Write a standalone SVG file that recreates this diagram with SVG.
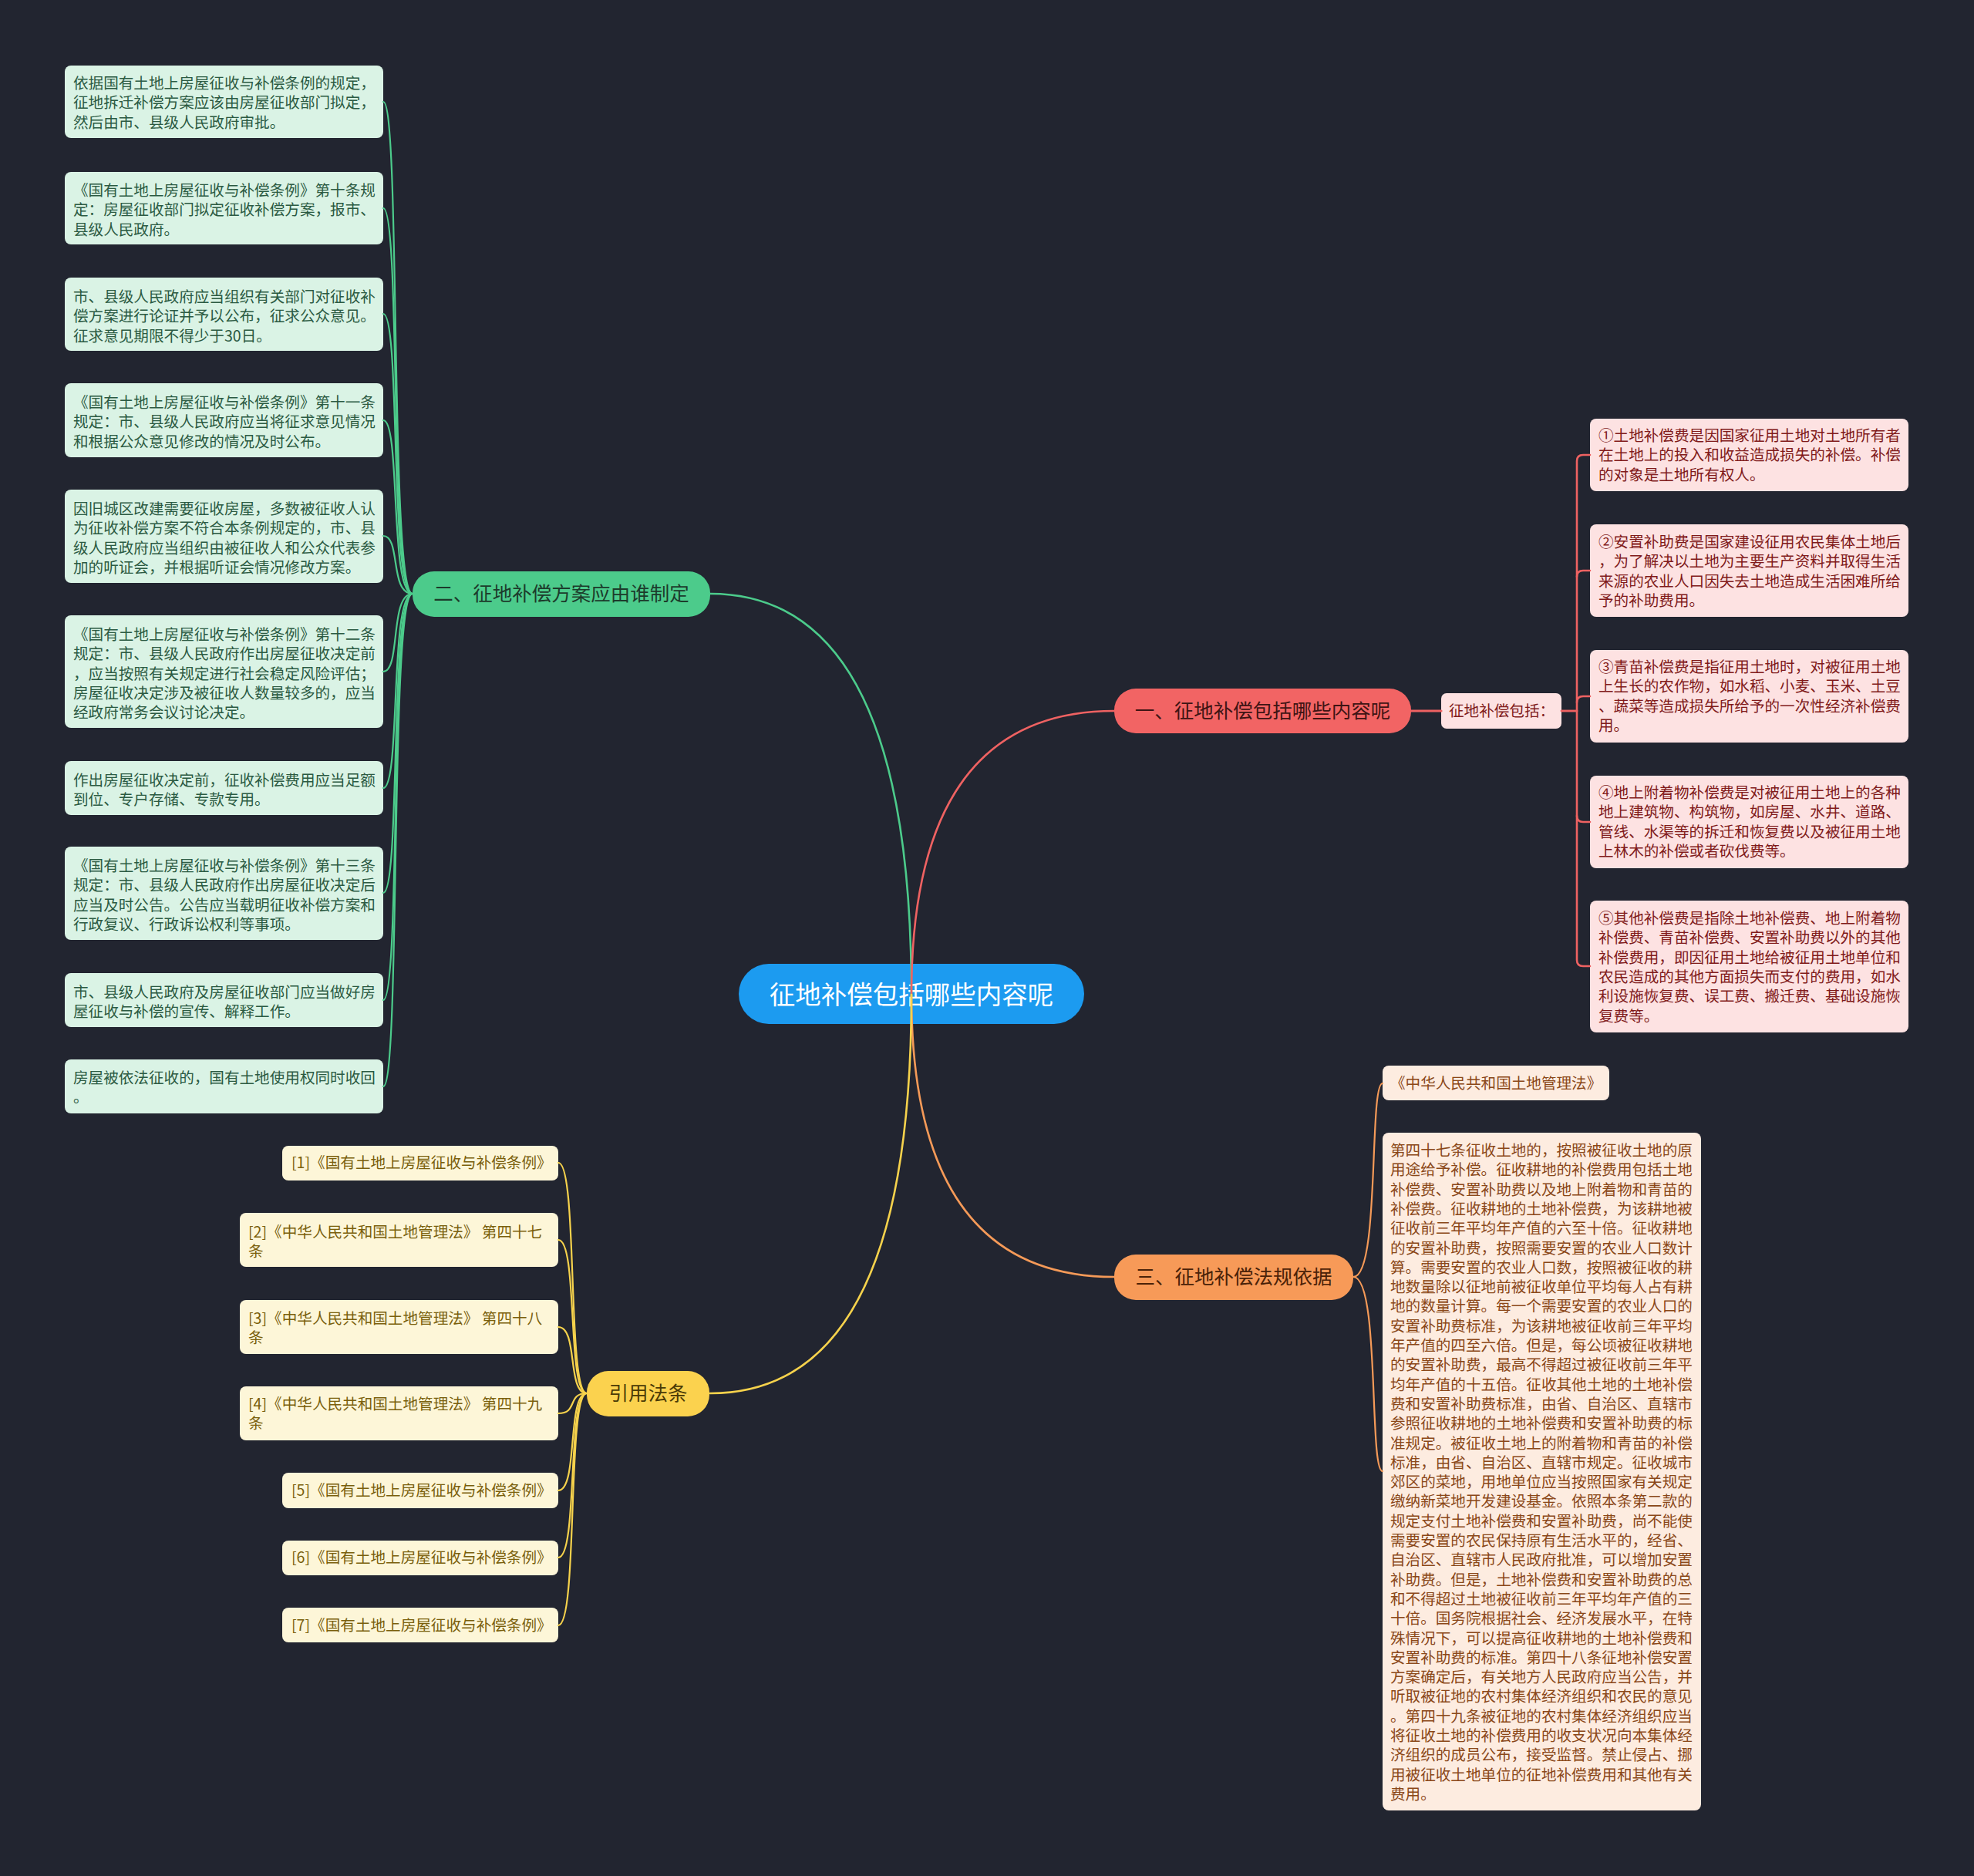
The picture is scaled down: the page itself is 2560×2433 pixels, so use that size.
<svg xmlns="http://www.w3.org/2000/svg" width="2560" height="2433" viewBox="0 0 2560 2433">
<style>
text{font-family:"Noto Sans CJK SC","Noto Sans",sans-serif;}
.lt{font-size:19.6px;}
.bt{font-size:25.5px;text-anchor:middle;}
.gl{fill:#daf3e5;}
.glt{fill:#2b5a42;}
.pl{fill:#fde2e2;}
.plt{fill:#801a1a;}
.ol{fill:#fdece0;}
.olt{fill:#8a4718;}
.yl{fill:#fdf6d8;}
.ylt{fill:#7a5f0c;}
.c{fill:none;stroke-linecap:round;}
.cg{stroke:#4ccb8b;}
.cr{stroke:#ef6262;}
.co{stroke:#f59a58;}
.cy{stroke:#f6d24c;}
</style>
<rect width="2560" height="2433" fill="#222530"/>

<g id="root">
<rect x="958" y="1250" width="448" height="78" rx="39" fill="#1c9bf0"/>
<text x="1182" y="1302" style="font-size:33.5px;text-anchor:middle;fill:#ffffff">征地补偿包括哪些内容呢</text>
</g>

<g id="branch-2">
<rect x="535" y="741" width="386" height="59" rx="28" fill="#4ccb8b"/>
<text class="bt" x="728" y="779" fill="#1c3b2b">二、征地补偿方案应由谁制定</text>
</g>
<g id="branch-1">
<rect x="1445" y="893" width="385" height="58" rx="28" fill="#f26464"/>
<text class="bt" x="1637.5" y="931" fill="#3e1414">一、征地补偿包括哪些内容呢</text>
</g>
<g id="branch-3">
<rect x="1445" y="1627" width="310" height="59" rx="28" fill="#f79a58"/>
<text class="bt" x="1600" y="1665" fill="#4a2208">三、征地补偿法规依据</text>
</g>
<g id="branch-ref">
<rect x="761" y="1778" width="159" height="59" rx="28" fill="#fbd24e"/>
<text class="bt" x="840.5" y="1816" fill="#4a3a06">引用法条</text>
</g>

<g id="g1"><rect class="gl" x="84" y="85" width="413" height="94" rx="8"/>
<text class="lt glt" x="95" y="115">依据国有土地上房屋征收与补偿条例的规定，<tspan x="95" dy="25.3">征地拆迁补偿方案应该由房屋征收部门拟定，</tspan><tspan x="95" dy="25.3">然后由市、县级人民政府审批。</tspan></text></g>
<g id="g2"><rect class="gl" x="84" y="223" width="413" height="94" rx="8"/>
<text class="lt glt" x="95" y="254">《国有土地上房屋征收与补偿条例》第十条规<tspan x="95" dy="25.3">定：房屋征收部门拟定征收补偿方案，报市、</tspan><tspan x="95" dy="25.3">县级人民政府。</tspan></text></g>
<g id="g3"><rect class="gl" x="84" y="360" width="413" height="95" rx="8"/>
<text class="lt glt" x="95" y="392">市、县级人民政府应当组织有关部门对征收补<tspan x="95" dy="25.3">偿方案进行论证并予以公布，征求公众意见。</tspan><tspan x="95" dy="25.3">征求意见期限不得少于30日。</tspan></text></g>
<g id="g4"><rect class="gl" x="84" y="497" width="413" height="96" rx="8"/>
<text class="lt glt" x="95" y="529">《国有土地上房屋征收与补偿条例》第十一条<tspan x="95" dy="25.3">规定：市、县级人民政府应当将征求意见情况</tspan><tspan x="95" dy="25.3">和根据公众意见修改的情况及时公布。</tspan></text></g>
<g id="g5"><rect class="gl" x="84" y="635" width="413" height="121" rx="8"/>
<text class="lt glt" x="95" y="667">因旧城区改建需要征收房屋，多数被征收人认<tspan x="95" dy="25.3">为征收补偿方案不符合本条例规定的，市、县</tspan><tspan x="95" dy="25.3">级人民政府应当组织由被征收人和公众代表参</tspan><tspan x="95" dy="25.3">加的听证会，并根据听证会情况修改方案。</tspan></text></g>
<g id="g6"><rect class="gl" x="84" y="798" width="413" height="146" rx="8"/>
<text class="lt glt" x="95" y="830">《国有土地上房屋征收与补偿条例》第十二条<tspan x="95" dy="25.3">规定：市、县级人民政府作出房屋征收决定前</tspan><tspan x="95" dy="25.3">，应当按照有关规定进行社会稳定风险评估；</tspan><tspan x="95" dy="25.3">房屋征收决定涉及被征收人数量较多的，应当</tspan><tspan x="95" dy="25.3">经政府常务会议讨论决定。</tspan></text></g>
<g id="g7"><rect class="gl" x="84" y="987" width="413" height="70" rx="8"/>
<text class="lt glt" x="95" y="1019">作出房屋征收决定前，征收补偿费用应当足额<tspan x="95" dy="25.3">到位、专户存储、专款专用。</tspan></text></g>
<g id="g8"><rect class="gl" x="84" y="1098" width="413" height="121" rx="8"/>
<text class="lt glt" x="95" y="1130">《国有土地上房屋征收与补偿条例》第十三条<tspan x="95" dy="25.3">规定：市、县级人民政府作出房屋征收决定后</tspan><tspan x="95" dy="25.3">应当及时公告。公告应当载明征收补偿方案和</tspan><tspan x="95" dy="25.3">行政复议、行政诉讼权利等事项。</tspan></text></g>
<g id="g9"><rect class="gl" x="84" y="1262" width="413" height="70" rx="8"/>
<text class="lt glt" x="95" y="1294">市、县级人民政府及房屋征收部门应当做好房<tspan x="95" dy="25.3">屋征收与补偿的宣传、解释工作。</tspan></text></g>
<g id="g10"><rect class="gl" x="84" y="1374" width="413" height="70" rx="8"/>
<text class="lt glt" x="95" y="1405">房屋被依法征收的，国有土地使用权同时收回<tspan x="95" dy="25.3">。</tspan></text></g>

<g id="p0"><rect class="pl" x="1869" y="899" width="156" height="46" rx="7"/>
<text class="lt plt" x="1879" y="929">征地补偿包括：</text></g>
<g id="p1"><rect class="pl" x="2062" y="543" width="413" height="94" rx="8"/>
<text class="lt plt" x="2073" y="572">①土地补偿费是因国家征用土地对土地所有者<tspan x="2073" dy="25.3">在土地上的投入和收益造成损失的补偿。补偿</tspan><tspan x="2073" dy="25.3">的对象是土地所有权人。</tspan></text></g>
<g id="p2"><rect class="pl" x="2062" y="680" width="413" height="120" rx="8"/>
<text class="lt plt" x="2073" y="710">②安置补助费是国家建设征用农民集体土地后<tspan x="2073" dy="25.3">，为了解决以土地为主要生产资料并取得生活</tspan><tspan x="2073" dy="25.3">来源的农业人口因失去土地造成生活困难所给</tspan><tspan x="2073" dy="25.3">予的补助费用。</tspan></text></g>
<g id="p3"><rect class="pl" x="2062" y="843" width="413" height="120" rx="8"/>
<text class="lt plt" x="2073" y="872">③青苗补偿费是指征用土地时，对被征用土地<tspan x="2073" dy="25.3">上生长的农作物，如水稻、小麦、玉米、土豆</tspan><tspan x="2073" dy="25.3">、蔬菜等造成损失所给予的一次性经济补偿费</tspan><tspan x="2073" dy="25.3">用。</tspan></text></g>
<g id="p4"><rect class="pl" x="2062" y="1006" width="413" height="120" rx="8"/>
<text class="lt plt" x="2073" y="1035">④地上附着物补偿费是对被征用土地上的各种<tspan x="2073" dy="25.3">地上建筑物、构筑物，如房屋、水井、道路、</tspan><tspan x="2073" dy="25.3">管线、水渠等的拆迁和恢复费以及被征用土地</tspan><tspan x="2073" dy="25.3">上林木的补偿或者砍伐费等。</tspan></text></g>
<g id="p5"><rect class="pl" x="2062" y="1168" width="413" height="171" rx="8"/>
<text class="lt plt" x="2073" y="1198">⑤其他补偿费是指除土地补偿费、地上附着物<tspan x="2073" dy="25.3">补偿费、青苗补偿费、安置补助费以外的其他</tspan><tspan x="2073" dy="25.3">补偿费用，即因征用土地给被征用土地单位和</tspan><tspan x="2073" dy="25.3">农民造成的其他方面损失而支付的费用，如水</tspan><tspan x="2073" dy="25.3">利设施恢复费、误工费、搬迁费、基础设施恢</tspan><tspan x="2073" dy="25.3">复费等。</tspan></text></g>

<g id="o1"><rect class="ol" x="1793" y="1382" width="294" height="45" rx="8"/>
<text class="lt olt" x="1803" y="1412">《中华人民共和国土地管理法》</text></g>
<g id="o2"><rect class="ol" x="1793" y="1469" width="413" height="879" rx="8"/>
<text class="lt olt" x="1803" y="1499">第四十七条征收土地的，按照被征收土地的原<tspan x="1803" dy="25.3">用途给予补偿。征收耕地的补偿费用包括土地</tspan><tspan x="1803" dy="25.3">补偿费、安置补助费以及地上附着物和青苗的</tspan><tspan x="1803" dy="25.3">补偿费。征收耕地的土地补偿费，为该耕地被</tspan><tspan x="1803" dy="25.3">征收前三年平均年产值的六至十倍。征收耕地</tspan><tspan x="1803" dy="25.3">的安置补助费，按照需要安置的农业人口数计</tspan><tspan x="1803" dy="25.3">算。需要安置的农业人口数，按照被征收的耕</tspan><tspan x="1803" dy="25.3">地数量除以征地前被征收单位平均每人占有耕</tspan><tspan x="1803" dy="25.3">地的数量计算。每一个需要安置的农业人口的</tspan><tspan x="1803" dy="25.3">安置补助费标准，为该耕地被征收前三年平均</tspan><tspan x="1803" dy="25.3">年产值的四至六倍。但是，每公顷被征收耕地</tspan><tspan x="1803" dy="25.3">的安置补助费，最高不得超过被征收前三年平</tspan><tspan x="1803" dy="25.3">均年产值的十五倍。征收其他土地的土地补偿</tspan><tspan x="1803" dy="25.3">费和安置补助费标准，由省、自治区、直辖市</tspan><tspan x="1803" dy="25.3">参照征收耕地的土地补偿费和安置补助费的标</tspan><tspan x="1803" dy="25.3">准规定。被征收土地上的附着物和青苗的补偿</tspan><tspan x="1803" dy="25.3">标准，由省、自治区、直辖市规定。征收城市</tspan><tspan x="1803" dy="25.3">郊区的菜地，用地单位应当按照国家有关规定</tspan><tspan x="1803" dy="25.3">缴纳新菜地开发建设基金。依照本条第二款的</tspan><tspan x="1803" dy="25.3">规定支付土地补偿费和安置补助费，尚不能使</tspan><tspan x="1803" dy="25.3">需要安置的农民保持原有生活水平的，经省、</tspan><tspan x="1803" dy="25.3">自治区、直辖市人民政府批准，可以增加安置</tspan><tspan x="1803" dy="25.3">补助费。但是，土地补偿费和安置补助费的总</tspan><tspan x="1803" dy="25.3">和不得超过土地被征收前三年平均年产值的三</tspan><tspan x="1803" dy="25.3">十倍。国务院根据社会、经济发展水平，在特</tspan><tspan x="1803" dy="25.3">殊情况下，可以提高征收耕地的土地补偿费和</tspan><tspan x="1803" dy="25.3">安置补助费的标准。第四十八条征地补偿安置</tspan><tspan x="1803" dy="25.3">方案确定后，有关地方人民政府应当公告，并</tspan><tspan x="1803" dy="25.3">听取被征地的农村集体经济组织和农民的意见</tspan><tspan x="1803" dy="25.3">。第四十九条被征地的农村集体经济组织应当</tspan><tspan x="1803" dy="25.3">将征收土地的补偿费用的收支状况向本集体经</tspan><tspan x="1803" dy="25.3">济组织的成员公布，接受监督。禁止侵占、挪</tspan><tspan x="1803" dy="25.3">用被征收土地单位的征地补偿费用和其他有关</tspan><tspan x="1803" dy="25.3">费用。</tspan></text></g>

<g id="y1"><rect class="yl" x="366" y="1486" width="358" height="45" rx="8"/>
<text class="lt ylt" x="378" y="1515">[1]《国有土地上房屋征收与补偿条例》</text></g>
<g id="y2"><rect class="yl" x="311" y="1573" width="413" height="70" rx="8"/>
<text class="lt ylt" x="322" y="1605">[2]《中华人民共和国土地管理法》 第四十七<tspan x="322" dy="25.3">条</tspan></text></g>
<g id="y3"><rect class="yl" x="311" y="1686" width="413" height="70" rx="8"/>
<text class="lt ylt" x="322" y="1717">[3]《中华人民共和国土地管理法》 第四十八<tspan x="322" dy="25.3">条</tspan></text></g>
<g id="y4"><rect class="yl" x="311" y="1798" width="413" height="70" rx="8"/>
<text class="lt ylt" x="322" y="1828">[4]《中华人民共和国土地管理法》 第四十九<tspan x="322" dy="25.3">条</tspan></text></g>
<g id="y5"><rect class="yl" x="366" y="1910" width="358" height="46" rx="8"/>
<text class="lt ylt" x="378" y="1940">[5]《国有土地上房屋征收与补偿条例》</text></g>
<g id="y6"><rect class="yl" x="366" y="1998" width="358" height="45" rx="8"/>
<text class="lt ylt" x="378" y="2027">[6]《国有土地上房屋征收与补偿条例》</text></g>
<g id="y7"><rect class="yl" x="366" y="2085" width="358" height="45" rx="8"/>
<text class="lt ylt" x="378" y="2115">[7]《国有土地上房屋征收与补偿条例》</text></g>

<g id="connectors">
<path class="c cg" stroke-width="2.6" d="M921 770 Q1182 770 1182 1290"/>
<path class="c cr" stroke-width="2.6" d="M1445 922 Q1182 922 1182 1290"/>
<path class="c co" stroke-width="2.6" d="M1445 1656 Q1182 1656 1182 1290"/>
<path class="c cy" stroke-width="2.6" d="M921 1807 Q1182 1807 1182 1290"/>
<g class="c cg" stroke-width="2.2">
<path d="M535 770 C505 770 520 132 497 132"/>
<path d="M535 770 C505 770 520 270 497 270"/>
<path d="M535 770 C505 770 520 407 497 407"/>
<path d="M535 770 C505 770 520 545 497 545"/>
<path d="M535 770 C505 770 520 695 497 695"/>
<path d="M535 770 C505 770 520 871 497 871"/>
<path d="M535 770 C505 770 520 1022 497 1022"/>
<path d="M535 770 C505 770 520 1158 497 1158"/>
<path d="M535 770 C505 770 520 1297 497 1297"/>
<path d="M535 770 C505 770 520 1409 497 1409"/>
</g>
<path class="c cr" stroke-width="3.2" d="M1830 922 H1869"/>
<g class="c cr" stroke-width="2.6">
<path d="M2025 922 H2045 V598 Q2045 590 2053 590 H2062"/>
<path d="M2045 748 Q2045 740 2053 740 H2062"/>
<path d="M2045 911 Q2045 903 2053 903 H2062"/>
<path d="M2025 922 H2045 V1245 Q2045 1253 2053 1253 H2062"/>
<path d="M2045 1058 Q2045 1066 2053 1066 H2062"/>
</g>
<g class="c co" stroke-width="2.2">
<path d="M1755 1656 C1790 1656 1775 1405 1793 1405"/>
<path d="M1755 1656 C1790 1656 1775 1908 1793 1908"/>
</g>
<g class="c cy" stroke-width="2.2">
<path d="M761 1807 C735 1807 750 1508 724 1508"/>
<path d="M761 1807 C735 1807 750 1608 724 1608"/>
<path d="M761 1807 C735 1807 750 1721 724 1721"/>
<path d="M761 1807 C735 1807 750 1833 724 1833"/>
<path d="M761 1807 C735 1807 750 1933 724 1933"/>
<path d="M761 1807 C735 1807 750 2020 724 2020"/>
<path d="M761 1807 C735 1807 750 2108 724 2108"/>
</g>
</g>
</svg>
